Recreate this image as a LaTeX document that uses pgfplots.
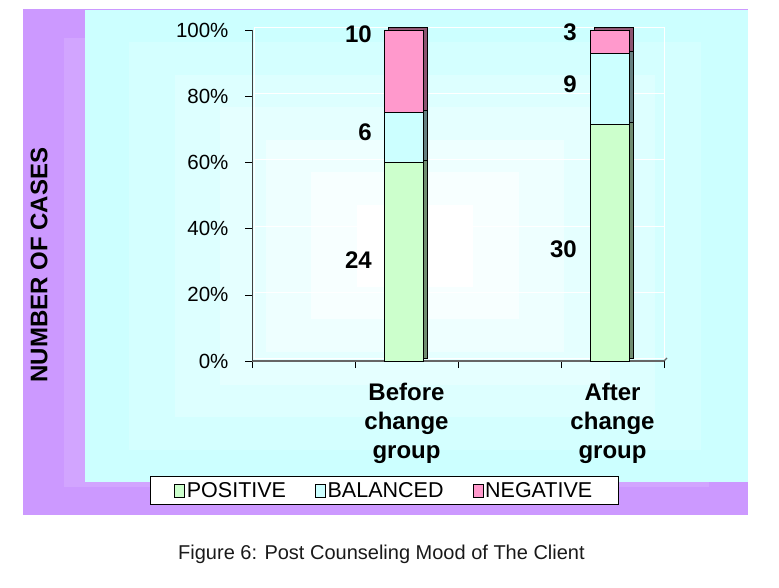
\documentclass[border=0pt]{standalone}
\usepackage{fontspec}
\setmainfont{Liberation Sans}
\usepackage{pgfplots}
\usepackage{pgfplotstable}
\pgfplotsset{compat=1.18}

\definecolor{chartbg}{HTML}{CC99FF}
\definecolor{plotbg}{HTML}{CCFFFF}
\definecolor{posc}{HTML}{CCFFCC}
\definecolor{balc}{HTML}{CCFFFF}
\definecolor{negc}{HTML}{FF99CC}

% shares in percent of each group (counts: 24/6/10 and 30/9/3)
\pgfplotstableread{
x pos bal neg
2 60    15    25
4 71.43 21.43 7.14
}\mood

\pgfplotsset{
  moodaxis/.style={
    scale only axis, width=412pt, height=331pt,
    anchor=south west,
    xmin=0.5, xmax=4.5, ymin=0, ymax=100,
    ybar stacked, bar width=39pt, bar shift=-3pt,
  },
}

\begin{document}
\begin{tikzpicture}[x=1pt,y=1pt]
\useasboundingbox (0,0) rectangle (779,587);
% backgrounds (pixel rows flipped: Y = 587 - row)
\fill[chartbg] (23,72) rectangle (748,578);
\fill[chartbg!88!white] (64,100) rectangle (709,549);
\fill[plotbg] (85,105) rectangle (748,577);
\foreach \k in {1,...,6}{
  \pgfmathsetmacro\hx{331.5-\k*(331.5-58)/6}
  \pgfmathsetmacro\hy{236-\k*(236-41)/6}
  \pgfmathsetmacro\shade{100*\k/6}
  \fill[white!\shade!plotbg] (415-\hx,341-\hy) rectangle (415+\hx,341+\hy);
}

% back wall with grid
\begin{axis}[moodaxis, at={(254pt,228.5pt)}, width=410pt,
  axis lines=box, axis line style={white, line width=1pt},
  xtick=\empty, ytick={20,40,...,100}, yticklabels={},
  major tick length=0pt, ymajorgrids,
  grid style={white, line width=1pt}]
\end{axis}

% side faces of the bars
\begin{axis}[moodaxis, at={(256pt,228.5pt)}, hide axis]
\addplot[fill=posc!55!black, draw=black, line width=0.6pt] table[x=x,y=pos]{\mood};
\addplot[fill=balc!50!black, draw=black, line width=0.6pt] table[x=x,y=bal]{\mood};
\addplot[fill=negc!55!black, draw=black, line width=0.6pt] table[x=x,y=neg]{\mood};
\end{axis}

% front faces, axes, labels
\begin{axis}[moodaxis, at={(252pt,226pt)},
  axis lines=left,
  x axis line style={-, draw=gray!80!black, line width=1.2pt},
  y axis line style={-, draw=black!75, line width=0.8pt},
  tick align=outside, major tick length=7pt,
  tick style={black, line width=0.6pt},
  ytick={0,20,...,100},
  yticklabel={\pgfmathprintnumber{\tick}\%},
  /pgf/number format/assume math mode=true,
  yticklabel style={font=\fontsize{20.5}{24}\selectfont, xshift=-13pt},
  xtick={0.5,1.5,...,4.5}, xticklabels={},
  legend image code/.code={%
    \draw[#1, draw=black, line width=0.6pt] (0pt,-6.5pt) rectangle (10pt,6.5pt);},
  legend columns=3,
  legend style={at={(-0.2476,-0.347)}, anchor=north west, draw=black,
    fill=white, font=\fontsize{21.5}{25}\selectfont, inner ysep=4pt,
    inner xsep=24pt, line width=0.6pt,
    /tikz/every even column/.append style={column sep=27pt}},
  clip=false]
\addplot[fill=posc, draw=black, line width=0.6pt] table[x=x,y=pos]{\mood};
\addplot[fill=balc, draw=black, line width=0.6pt] table[x=x,y=bal]{\mood};
\addplot[fill=negc, draw=black, line width=0.6pt] table[x=x,y=neg]{\mood};
\legend{POSITIVE, BALANCED, NEGATIVE}
\draw[gray!80!black, line width=1.2pt] (axis cs:4.5,0) -- ++(3pt,3pt);
\node[anchor=north, align=center, inner sep=0pt,
  font=\fontsize{24}{29}\selectfont\bfseries] at (axis cs:2,-6.5) {Before\\change\\group};
\node[anchor=north, align=center, inner sep=0pt,
  font=\fontsize{24}{29}\selectfont\bfseries] at (axis cs:4,-6.5) {After\\change\\group};
\node[inner sep=0pt, anchor=east, font=\fontsize{24}{29}\selectfont\bfseries] at (axis cs:1.665,30.4) {24};
\node[inner sep=0pt, anchor=east, font=\fontsize{24}{29}\selectfont\bfseries] at (axis cs:1.665,69.2) {6};
\node[inner sep=0pt, anchor=east, font=\fontsize{24}{29}\selectfont\bfseries] at (axis cs:1.665,98.8) {10};
\node[inner sep=0pt, anchor=east, font=\fontsize{24}{29}\selectfont\bfseries] at (axis cs:3.655,33.8) {30};
\node[inner sep=0pt, anchor=east, font=\fontsize{24}{29}\selectfont\bfseries] at (axis cs:3.655,83.7) {9};
\node[inner sep=0pt, anchor=east, font=\fontsize{24}{29}\selectfont\bfseries] at (axis cs:3.655,99.4) {3};
\end{axis}

\node[rotate=90, font=\fontsize{24}{29}\selectfont\bfseries] at (39,322) {NUMBER OF CASES};
\node[anchor=base west, inner sep=0pt, text=black!90,
  font=\fontsize{20}{24}\selectfont] at (178,28) {Figure 6: Post Counseling Mood of The Client};
\end{tikzpicture}
\end{document}
